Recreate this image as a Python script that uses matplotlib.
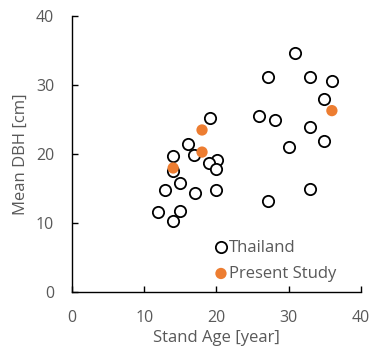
import matplotlib
matplotlib.use("Agg")
import matplotlib.pyplot as plt

thai_age = [30.9, 27.1, 32.9, 36.0, 34.9, 25.9, 28.1, 32.9, 34.9, 30.0, 32.9, 27.1,
            19.1, 16.0, 14.0, 16.9, 20.1, 19.0, 20.0, 14.0, 14.9, 12.9, 17.0, 20.0,
            11.9, 15.0, 14.0]
thai_dbh = [34.7, 31.1, 31.1, 30.6, 28.0, 25.5, 25.0, 23.9, 21.9, 21.1, 15.0, 13.2,
            25.2, 21.4, 19.8, 19.9, 19.1, 18.7, 17.9, 17.5, 15.8, 14.8, 14.4, 14.8,
            11.6, 11.8, 10.3]
present_age = [18.0, 18.0, 14.0, 36.0]
present_dbh = [23.5, 20.3, 18.0, 26.3]

xticks = [0, 10, 20, 30, 40]
yticks = [0, 10, 20, 30, 40]

plt.rcParams['font.family'] = ['Open Sans', 'DejaVu Sans']
grey = '#595959'

fig = plt.figure(figsize=(3.7, 3.54), dpi=100)
ax = fig.add_axes([0.195, 0.174, 0.78, 0.781])

ax.scatter(thai_age, thai_dbh, s=66, facecolors='white', edgecolors='black',
           linewidths=1.3, label='Thailand', zorder=2)
ax.scatter(present_age, present_dbh, s=66, color='#ED7D31', edgecolors='none',
           label='Present Study', zorder=3)

ax.set_xlim(0, 40)
ax.set_ylim(0, 40)
ax.set_xticks(xticks)
ax.set_yticks(yticks)
for s in ['top', 'right']:
    ax.spines[s].set_visible(False)
for s in ['left', 'bottom']:
    ax.spines[s].set_color('black')
    ax.spines[s].set_linewidth(1.0)
ax.tick_params(direction='in', length=4, width=1, colors='black', labelcolor=grey,
               labelsize=11.5)
ax.tick_params(axis='y', pad=13)
ax.tick_params(axis='x', pad=12.5)
ax.set_xlabel('Stand Age [year]', color=grey, fontsize=12, labelpad=3)
ax.set_ylabel('Mean DBH [cm]', color=grey, fontsize=12, labelpad=5)

leg = ax.legend(loc='lower left', bbox_to_anchor=(0.455, 0.002), frameon=False,
                handletextpad=0.05, handlelength=0.9, borderaxespad=0.2,
                labelspacing=0.6, fontsize=12)
for t in leg.get_texts():
    t.set_color(grey)

fig.savefig('out.png', dpi=100)
